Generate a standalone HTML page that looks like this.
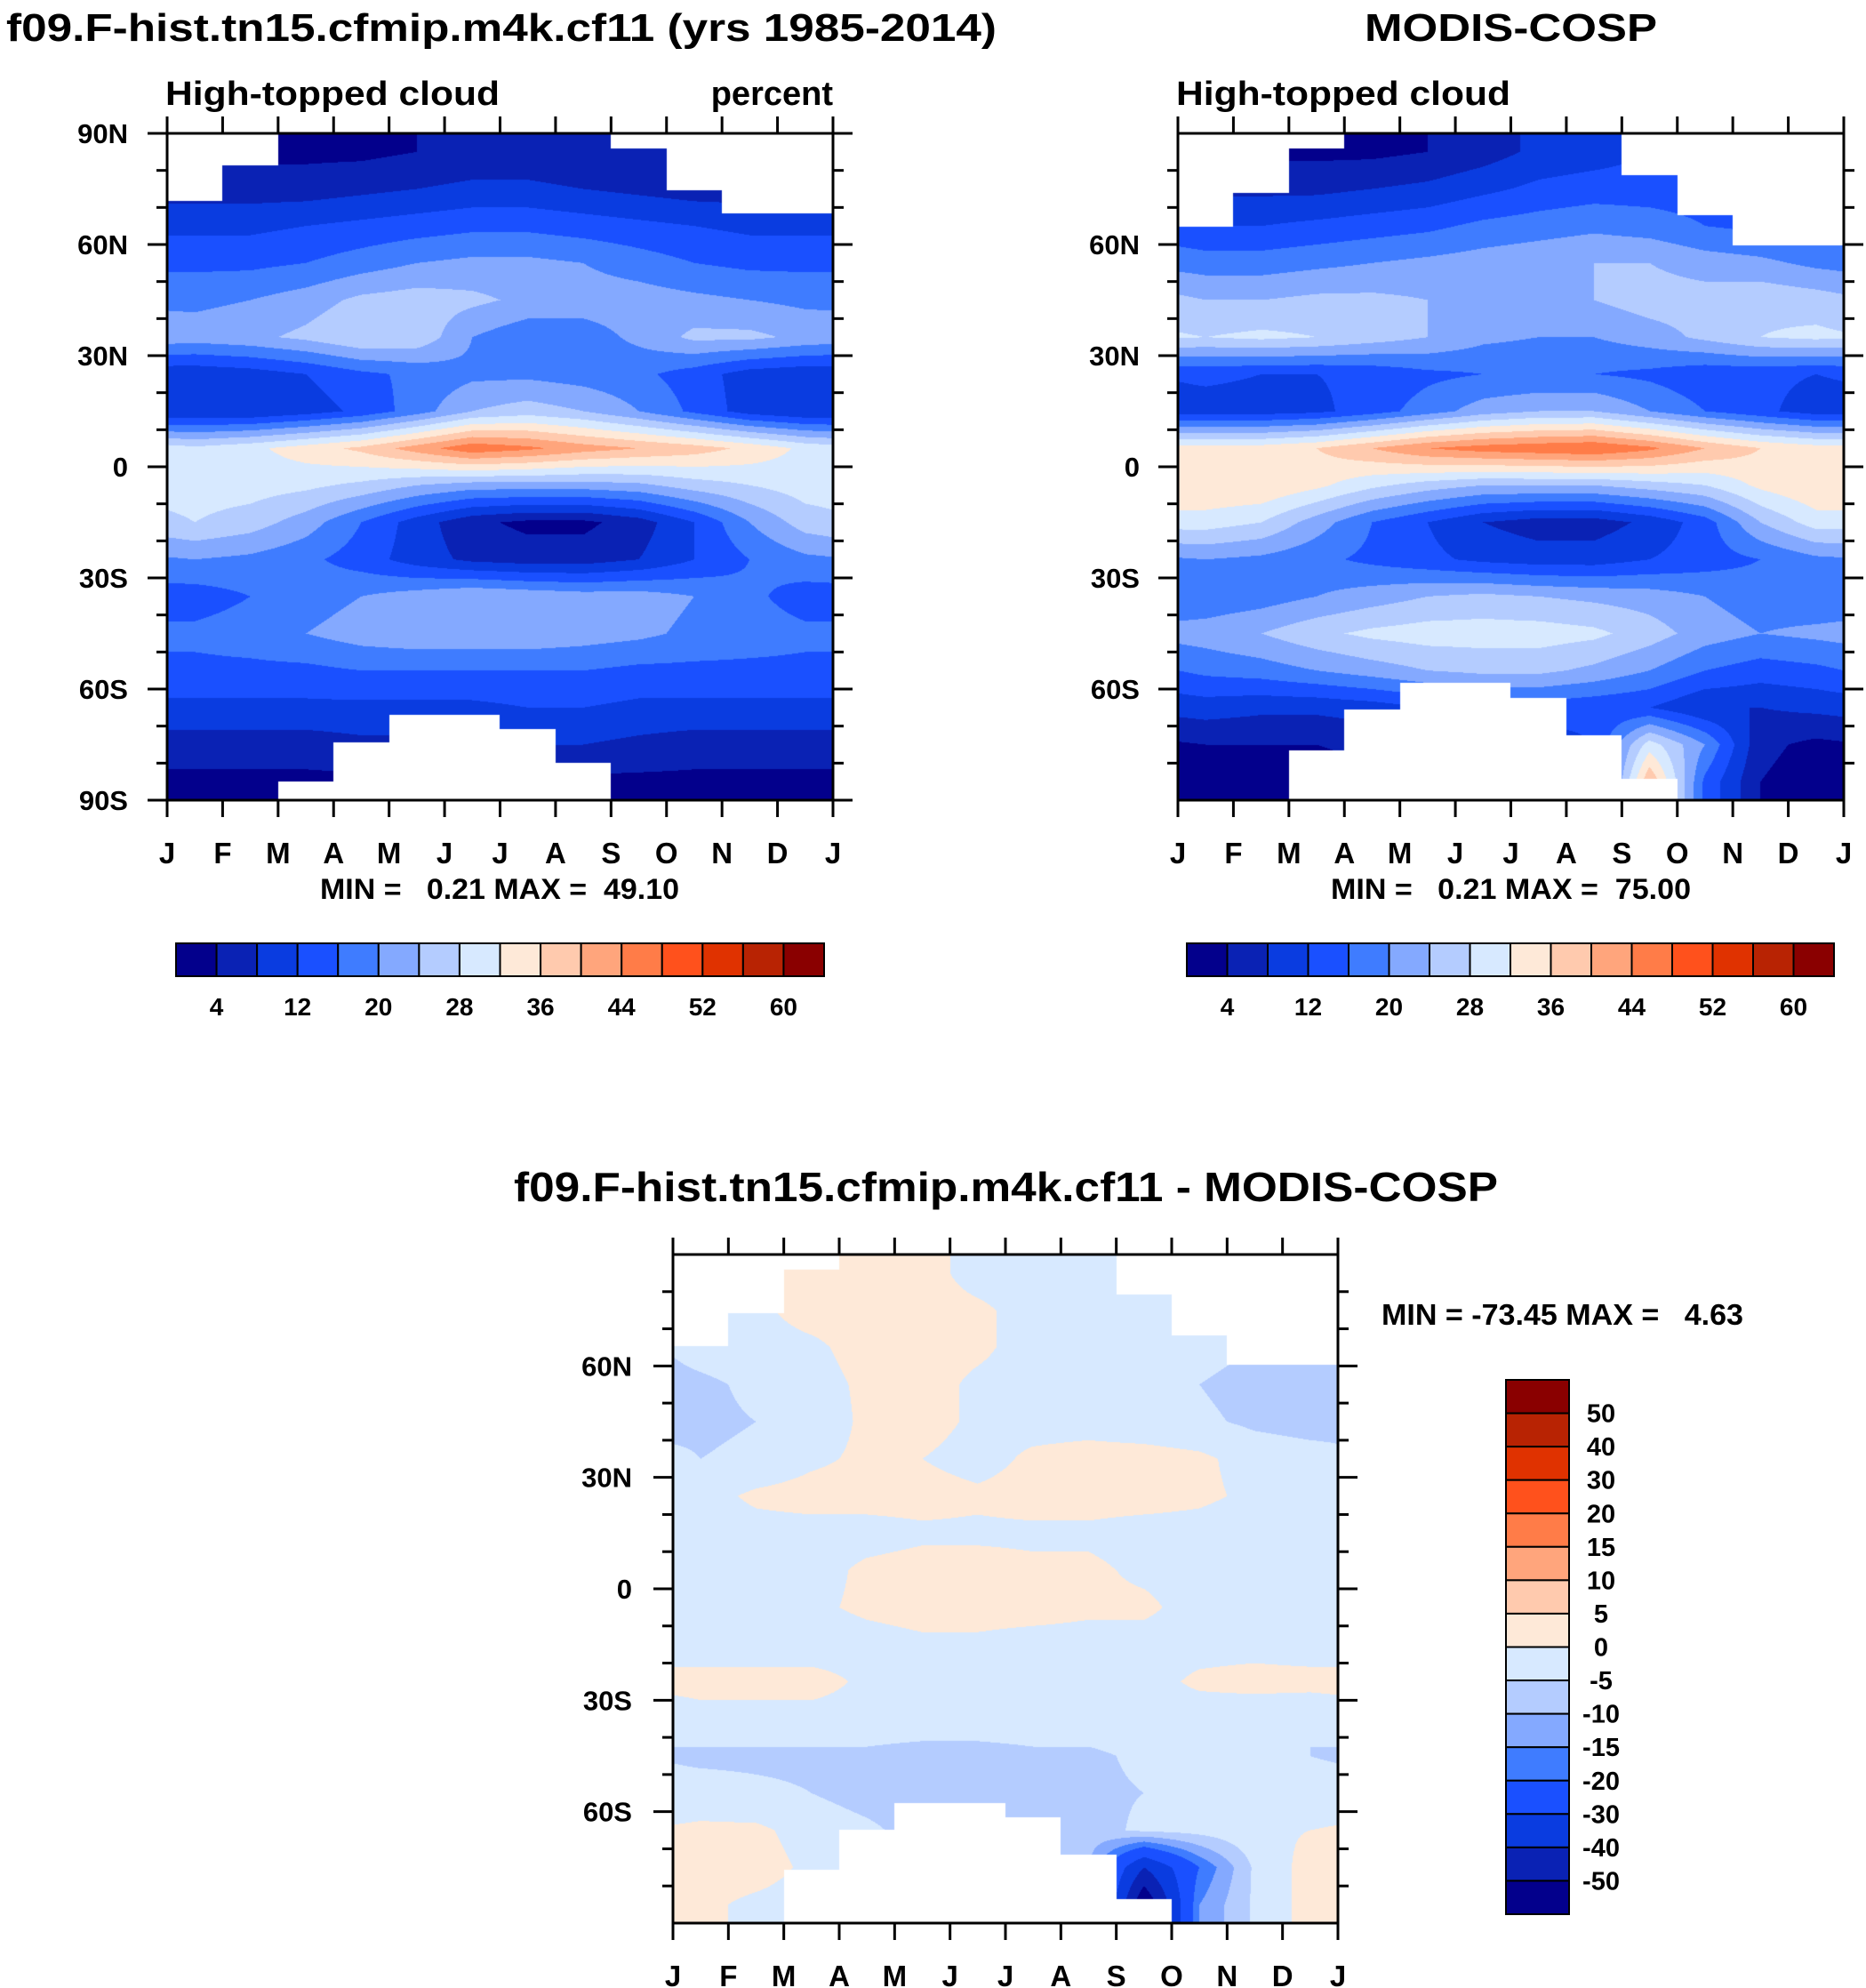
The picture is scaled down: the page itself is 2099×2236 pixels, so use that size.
<!DOCTYPE html>
<html><head><meta charset="utf-8">
<style>
body{margin:0;background:#fff;}
#wrap{position:relative;width:2099px;height:2236px;overflow:hidden;background:#fff;}
canvas{position:absolute;}
svg{position:absolute;left:0;top:0;}
text{font-family:"Liberation Sans",sans-serif;font-weight:bold;fill:#000;white-space:pre;}
</style></head>
<body>
<div id="wrap">
<canvas id="c1"></canvas>
<canvas id="c2"></canvas>
<canvas id="c3"></canvas>
<svg id="ov" width="2099" height="2236" xml:space="preserve">
<text x="7" y="46" font-size="44" textLength="1114" lengthAdjust="spacingAndGlyphs">f09.F-hist.tn15.cfmip.m4k.cf11 (yrs 1985-2014)</text>
<text x="186" y="118" font-size="38" textLength="376" lengthAdjust="spacingAndGlyphs">High-topped cloud</text>
<text x="937" y="118" font-size="38" text-anchor="end">percent</text>
<text x="1535" y="46" font-size="44" textLength="329" lengthAdjust="spacingAndGlyphs">MODIS-COSP</text>
<text x="1323" y="118" font-size="38" textLength="376" lengthAdjust="spacingAndGlyphs">High-topped cloud</text>
<text x="360" y="1011" font-size="32" textLength="404" lengthAdjust="spacingAndGlyphs">MIN =   0.21 MAX =  49.10</text>
<text x="1497" y="1011" font-size="32" textLength="405" lengthAdjust="spacingAndGlyphs">MIN =   0.21 MAX =  75.00</text>
<text x="578" y="1351" font-size="46" textLength="1107" lengthAdjust="spacingAndGlyphs">f09.F-hist.tn15.cfmip.m4k.cf11 - MODIS-COSP</text>
<text x="1554" y="1490" font-size="33" textLength="407" lengthAdjust="spacingAndGlyphs">MIN = -73.45 MAX =   4.63</text>
</svg>
</div>
<script>
const monthLabels=['J','F','M','A','M','J','J','A','S','O','N','D','J'];
const lats=[85,75,65,55,45,35,25,15,5,-5,-15,-25,-35,-45,-55,-65,-75,-85];
const modelVals=[
[3,3,3,3,4,5,5,4,4,4,4,4],
[6,6,6,7,8,9,9,8,7,6,6,6],
[11,11,12,13,14,15,15,14,13,12,11,11],
[15,15,16,18,20,21,21,20,18,16,15,15],
[19,20,22,25,26,25,23,22,22,21,20,19],
[22,23,25,28,27,20,17,18,21,25,25,23],
[9,10,12,15,17,19,19,18,17,14,10,9],
[8,8,10,13,18,24,26,24,20,15,10,8],
[29,31,34,37,42,47,45,42,40,38,35,31],
[30,30,29,27,24,22,22,22,23,26,28,30],
[28,26,22,16,10,5,3,3,6,12,20,26],
[20,19,17,14,10,7,6,6,8,12,16,19],
[14,16,18,20,22,24,23,22,22,20,17,14],
[17,18,20,22,23,23,23,22,21,19,18,17],
[15,15,15,16,16,16,16,16,15,15,15,15],
[11,11,11,11,11,11,12,12,11,11,11,11],
[6,6,6,7,7,8,8,8,7,6,6,6],
[3,3,3,3,3,3,3,3,3,3,3,3]];
const obsVals=[
[3,3,3,3,4,6,9,10,12,12,12,12],
[7,7,7,8,9,11,13,14,14,14,13,12],
[12,12,13,14,15,17,18,19,18,16,15,14],
[18,18,19,20,21,22,23,24,24,22,21,19],
[24,24,25,25,24,23,23,24,26,26,27,26],
[28,29,28,26,24,21,20,20,22,25,28,29],
[13,12,12,13,15,16,16,16,15,13,13,12],
[10,10,11,14,18,22,24,24,20,16,13,10],
[34,34,36,40,44,46,47,48,45,40,36,34],
[36,36,33,29,26,24,24,24,26,28,33,36],
[30,28,22,16,12,8,6,6,9,14,24,30],
[20,19,17,15,13,11,10,10,12,14,16,19],
[17,18,20,22,24,25,24,23,22,20,18,17],
[22,24,27,29,30,30,30,29,26,22,20,21],
[17,18,20,22,24,25,25,23,20,16,14,15],
[10,9,9,10,12,14,14,13,12,8,8,9],
[4,4,4,5,6,8,10,12,30,20,5,3],
[2,2,2,3,4,5,6,8,40,15,4,2]];
const diffVals=[
[0,0,2,2,2,-2,-3,-3,-3,-3,-3,-3],
[-2,-1,2,2,2,1,-2,-2,-2,-3,-3,-3],
[-3,-2,-1,2,2,1,-2,-2,-2,-3,-5,-6],
[-6,-4,-2,1,2,-1,-2,-2,-3,-5,-7,-7],
[-6,-5,-3,1,2,-1,-2,-2,-3,-4,-6,-7],
[-5,-4,-1,1,0,-2,1,2,2,1,-2,-3],
[-2,1,2,2,2,1,2,2,2,1,-1,-2],
[-3,-2,-2,-2,-1,-1,-1,-1,-2,-2,-3,-3],
[-3,-3,-2,1,2,2,1,1,-1,-2,-3,-3],
[-3,-3,-1,1,2,2,2,1,1,-2,-3,-3],
[-3,-3,-3,-2,-1,-1,-2,-2,-2,-2,-2,-3],
[2,2,2,-1,-2,-2,-2,-2,-2,1,2,2],
[-2,-2,-2,-2,-2,-2,-2,-2,-2,-3,-4,-5],
[-6,-6,-6,-6,-7,-7,-6,-6,-4,-3,-4,-5],
[-3,-4,-5,-7,-8,-9,-8,-6,-5,-3,-2,-3],
[1,1,-2,-4,-7,-10,-8,-7,-4,-3,-1,0],
[2,2,-1,-6,-8,-8,-8,-10,-40,-20,-4,2],
[1,-1,-2,-3,-3,-3,-3,-3,-60,-15,-4,2]];
const modelNorthMask=[71.8,81.3,90,90,90,90,90,90,86,74.6,68.3,68.3];
const modelSouthMask=[-90,-90,-85,-74.5,-67,-67,-70.7,-80,-90,-90,-90,-90];
const obsNorthMask=[64.8,73.9,85.9,90,90,90,90,90,78.8,68,59.8,59.8];
const obsSouthMask=[-90,-90,-76.5,-65.4,-58.4,-58.4,-62.5,-72.5,-84.3,-90,-90,-90];
const diffNorthMask=[65.3,74.2,86,90,90,90,90,90,79.3,68.2,60.3,60.3];
const diffSouthMask=[-90,-90,-75.7,-64.9,-57.7,-57.7,-61.6,-71.6,-83.6,-90,-90,-90];
const absLevels=[4,8,12,16,20,24,28,32,36,40,44,48,52,56,60];
const absLabels=['4','12','20','28','36','44','52','60'];
const diffLevels=[-50,-40,-30,-20,-15,-10,-5,0,5,10,15,20,30,40,50];
const colors=['#03008c','#0a22b4','#0a3ce0','#1a50ff','#3f7cff','#84a9ff','#b4ccff','#d7e9ff','#fee9d8','#ffcaae','#ffa57c','#ff7c48','#ff511c','#e03200','#b82303','#8a0000'];

const plots=[
 {id:'c1',name:'model',x0:188,x1:937,y0:150,y1:900,vals:modelVals,nm:modelNorthMask,sm:modelSouthMask,lev:absLevels,labX:144,poles:true},
 {id:'c2',name:'obs',x0:1325,x1:2074,y0:150,y1:900,vals:obsVals,nm:obsNorthMask,sm:obsSouthMask,lev:absLevels,labX:1282,poles:false},
 {id:'c3',name:'diff',x0:757,x1:1505,y0:1411,y1:2163,vals:diffVals,nm:diffNorthMask,sm:diffSouthMask,lev:diffLevels,labX:711,poles:false}
];
function hex(c){return [parseInt(c.substr(1,2),16),parseInt(c.substr(3,2),16),parseInt(c.substr(5,2),16)];}
const rgb=colors.map(hex);
function sample(vals,mx,lat){
  let c=mx-0.5; let i0=Math.floor(c); let f=c-i0;
  let a=((i0%12)+12)%12, b=(a+1)%12;
  let r=(85-lat)/10; if(r<0)r=0; if(r>17)r=17;
  let j0=Math.floor(r); let g=r-j0; let j1=Math.min(j0+1,17);
  let v0=vals[j0][a]*(1-f)+vals[j0][b]*f;
  let v1=vals[j1][a]*(1-f)+vals[j1][b]*f;
  return v0*(1-g)+v1*g;
}
const svg=document.getElementById('ov');
const NS='http://www.w3.org/2000/svg';
function mk(tag,attrs,parent){const e=document.createElementNS(NS,tag);for(const k in attrs)e.setAttribute(k,attrs[k]);(parent||svg).appendChild(e);return e;}
plots.forEach(p=>{
  const W=p.x1-p.x0,H=p.y1-p.y0;
  const cv=document.getElementById(p.id);
  cv.width=W;cv.height=H;cv.style.left=p.x0+'px';cv.style.top=p.y0+'px';
  const ctx=cv.getContext('2d');const img=ctx.createImageData(W,H);
  const xs=mx=>p.x0+mx/12*W, ys=lat=>p.y0+(90-lat)/180*H;
  for(let py=0;py<H;py++){
    const lat=90-(py+0.5)/H*180;
    for(let px=0;px<W;px++){
      const mx=(px+0.5)/W*12; const m=Math.min(11,Math.floor(mx));
      let col=[255,255,255];
      if(!(lat>p.nm[m]||lat<p.sm[m])){
        const v=sample(p.vals,mx,lat); let k=0; while(k<p.lev.length&&v>=p.lev[k])k++; col=rgb[k];
      }
      const o=(py*W+px)*4; img.data[o]=col[0];img.data[o+1]=col[1];img.data[o+2]=col[2];img.data[o+3]=255;
    }
  }
  ctx.putImageData(img,0,0);
  const g=mk('g',{});
  
  
  const fr=mk('rect',{x:p.x0,y:p.y0,width:W,height:H,fill:'none',stroke:'#000','stroke-width':3},g);
  
  
  for(let i=0;i<=12;i++){
    const x=xs(i);
    mk('line',{x1:x,x2:x,y1:p.y0,y2:p.y0-19,stroke:'#000','stroke-width':3},g);
    mk('line',{x1:x,x2:x,y1:p.y1,y2:p.y1+19,stroke:'#000','stroke-width':3},g);
    const t=mk('text',{x:x,y:p.y1+71,'font-size':33,'text-anchor':'middle'},g);
    t.textContent=monthLabels[i];
    
    
  }
  for(let lat=90;lat>=-90;lat-=10){
    if(!p.poles&&Math.abs(lat)==90)continue;
    const y=ys(lat); const major=lat%30==0; const L=major?22:12;
    mk('line',{x1:p.x0,x2:p.x0-L,y1:y,y2:y,stroke:'#000','stroke-width':3},g);
    mk('line',{x1:p.x1,x2:p.x1+L,y1:y,y2:y,stroke:'#000','stroke-width':3},g);
    if(major){
      const t=mk('text',{x:p.labX,y:y+11,'font-size':31,'text-anchor':'end'},g);
      t.textContent=lat==0?'0':(Math.abs(lat)+(lat>0?'N':'S'));
      
      
    }
  }
});
[[198,927,'model'],[1335,2063,'obs']].forEach(cb=>{
  const g=mk('g',{});
  
  
  const bw=(cb[1]-cb[0])/colors.length;
  colors.forEach((c,i)=>{mk('rect',{x:cb[0]+i*bw,y:1061,width:bw,height:37,fill:c,stroke:'#000','stroke-width':2},g);});
  absLabels.forEach((lab,i)=>{
    const t=mk('text',{x:cb[0]+(1+2*i)*bw,y:1142,'font-size':28,'text-anchor':'middle'},g);
    t.textContent=lab;
    
    
  });
});
(function(){
  const g=mk('g',{});
  
  
  const top=1552,bot=2153,bh=(bot-top)/colors.length;
  for(let i=0;i<colors.length;i++){
    mk('rect',{x:1694,y:top+i*bh,width:71,height:bh,fill:colors[colors.length-1-i],stroke:'#000','stroke-width':2},g);
  }
  for(let k=1;k<=15;k++){
    const t=mk('text',{x:1801,y:top+k*bh+10,'font-size':29,'text-anchor':'middle'},g);
    t.textContent=String(diffLevels[15-k]);
    
    
  }
})();
</script>
</body></html>
